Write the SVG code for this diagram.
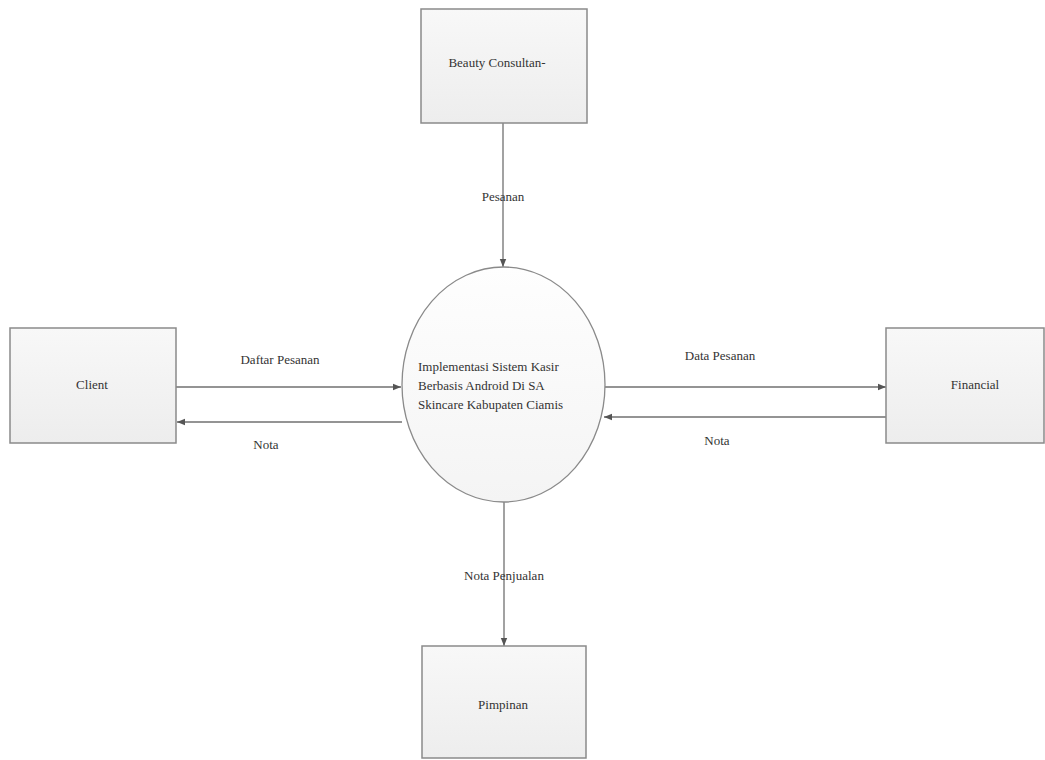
<svg xmlns="http://www.w3.org/2000/svg" width="1045" height="760" viewBox="0 0 1045 760">
<style>
.box{fill:url(#g);stroke:#8a8a8a;stroke-width:1.5}
.ell{fill:url(#g2);stroke:#8a8a8a;stroke-width:1.3}
text{font-family:"Liberation Serif","DejaVu Serif",serif;font-size:13px;fill:#333}
.c{text-anchor:middle}
.ln{stroke:#707070;stroke-width:1.3;fill:none}
</style>
<defs>
<linearGradient id="g" x1="0" y1="0" x2="0" y2="1">
<stop offset="0" stop-color="#f8f8f8"/>
<stop offset="1" stop-color="#ededed"/>
</linearGradient>
<linearGradient id="g2" x1="0" y1="0" x2="0" y2="1">
<stop offset="0" stop-color="#fefefe"/>
<stop offset="1" stop-color="#f4f4f4"/>
</linearGradient>
<marker id="a" viewBox="0 0 10 10" refX="10" refY="5" markerWidth="8" markerHeight="8" orient="auto" markerUnits="userSpaceOnUse">
<path d="M0,1 L10,5 L0,9 z" fill="#555"/>
</marker>
</defs>
<rect width="1045" height="760" fill="#fff"/>
<g id="connectors" font-family="Liberation Serif, serif" font-size="13">
<line class="ln" x1="503" y1="123" x2="503" y2="267" marker-end="url(#a)"/>
<line class="ln" x1="176" y1="387" x2="401" y2="387" marker-end="url(#a)"/>
<line class="ln" x1="402" y1="422" x2="177" y2="422" marker-end="url(#a)"/>
<line class="ln" x1="605" y1="387" x2="886" y2="387" marker-end="url(#a)"/>
<line class="ln" x1="886" y1="417" x2="604" y2="417" marker-end="url(#a)"/>
<line class="ln" x1="504" y1="502" x2="504" y2="646" marker-end="url(#a)"/>
<text class="c" x="503" y="201">Pesanan</text>
<text class="c" x="280" y="364">Daftar Pesanan</text>
<text class="c" x="266" y="449">Nota</text>
<text class="c" x="720" y="360">Data Pesanan</text>
<text class="c" x="717" y="445">Nota</text>
<text class="c" x="504" y="580">Nota Penjualan</text>
</g>
<g id="beauty">
<rect class="box" x="421" y="9" width="166" height="114"/>
<text class="c" x="497" y="67">Beauty Consultan-</text>
</g>
<g id="process">
<ellipse class="ell" cx="503.5" cy="384.5" rx="101.5" ry="117.5"/>
<text x="418" y="371">Implementasi Sistem Kasir</text>
<text x="418" y="390">Berbasis Android Di SA</text>
<text x="418" y="409">Skincare Kabupaten Ciamis</text>
</g>
<g id="client">
<rect class="box" x="10" y="328" width="166" height="115"/>
<text class="c" x="92" y="389">Client</text>
</g>
<g id="financial">
<rect class="box" x="886" y="328" width="158" height="115"/>
<text class="c" x="975" y="389">Financial</text>
</g>
<g id="pimpinan">
<rect class="box" x="422" y="646" width="164" height="112"/>
<text class="c" x="503" y="709">Pimpinan</text>
</g>
</svg>
